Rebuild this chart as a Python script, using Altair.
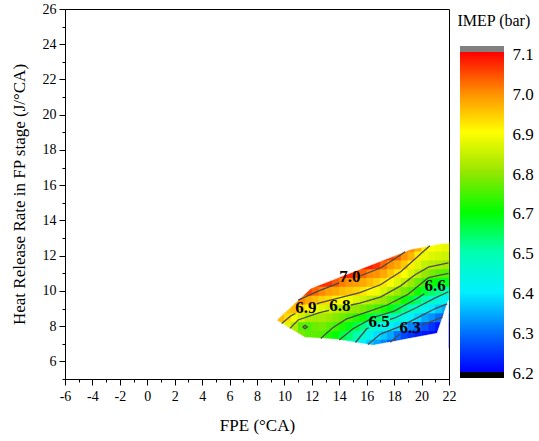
import altair as alt
import pandas as pd

# Cell centres of the IMEP map (FPE in degCA, heat-release rate in J/degCA)
FPE_CENTERS = [9.75, 10.25, 10.75, 11.25, 11.75, 12.25, 12.75, 13.25, 13.75, 14.25,
               14.75, 15.25, 15.75, 16.25, 16.75, 17.25, 17.75, 18.25, 18.75, 19.25,
               19.75, 20.25, 20.75, 21.25, 21.75]
HRR_CENTERS = [7.0, 7.5, 8.0, 8.5, 9.0, 9.5, 10.0, 10.5, 11.0, 11.5, 12.0, 12.5]

# IMEP (bar), one row per HRR centre
IMEP_7_0 = [6.74, 6.73, 6.72, 6.72, 6.71, 6.70, 6.68, 6.65, 6.61, 6.57, 6.53, 6.49, 6.43,
            6.39, 6.36, 6.33, 6.29, 6.25, 6.22, 6.20, 6.20, 6.20, 6.20, 6.20, 6.20]
IMEP_7_5 = [6.76, 6.75, 6.77, 6.74, 6.72, 6.72, 6.71, 6.67, 6.65, 6.61, 6.58, 6.54, 6.49,
            6.45, 6.41, 6.39, 6.36, 6.31, 6.27, 6.25, 6.23, 6.22, 6.21, 6.20, 6.20]
IMEP_8_0 = [6.86, 6.84, 6.79, 6.72, 6.71, 6.73, 6.74, 6.72, 6.70, 6.67, 6.64, 6.61, 6.57,
            6.51, 6.48, 6.46, 6.44, 6.41, 6.38, 6.33, 6.30, 6.28, 6.25, 6.22, 6.20]
IMEP_8_5 = [6.94, 6.91, 6.86, 6.82, 6.79, 6.78, 6.78, 6.77, 6.75, 6.73, 6.71, 6.68, 6.66,
            6.62, 6.59, 6.56, 6.53, 6.49, 6.46, 6.43, 6.40, 6.36, 6.34, 6.31, 6.27]
IMEP_9_0 = [6.96, 6.93, 6.94, 6.92, 6.89, 6.86, 6.84, 6.82, 6.80, 6.79, 6.77, 6.76, 6.74,
            6.72, 6.70, 6.67, 6.64, 6.61, 6.56, 6.52, 6.48, 6.45, 6.42, 6.39, 6.36]
IMEP_9_5 = [7.00, 6.99, 6.96, 6.99, 6.96, 6.94, 6.92, 6.91, 6.89, 6.87, 6.86, 6.84, 6.82,
            6.80, 6.78, 6.76, 6.73, 6.70, 6.66, 6.62, 6.58, 6.54, 6.50, 6.47, 6.44]
IMEP_10_0 = [7.05, 7.05, 7.05, 7.02, 7.05, 7.02, 6.99, 6.97, 6.96, 6.94, 6.93, 6.92, 6.90,
             6.88, 6.86, 6.83, 6.80, 6.77, 6.74, 6.71, 6.66, 6.62, 6.59, 6.56, 6.53]
IMEP_10_5 = [7.08, 7.08, 7.08, 7.08, 7.08, 7.06, 7.07, 7.06, 7.03, 7.00, 6.98, 6.97, 6.96,
             6.94, 6.92, 6.90, 6.87, 6.84, 6.81, 6.77, 6.73, 6.69, 6.66, 6.64, 6.63]
IMEP_11_0 = [7.09, 7.09, 7.09, 7.09, 7.09, 7.09, 7.09, 7.07, 7.07, 7.07, 7.07, 7.04, 7.02,
             6.99, 6.98, 6.96, 6.93, 6.90, 6.87, 6.83, 6.80, 6.76, 6.74, 6.72, 6.71]
IMEP_11_5 = [7.09, 7.09, 7.09, 7.09, 7.09, 7.09, 7.09, 7.09, 7.09, 7.09, 7.09, 7.07, 7.08,
             7.08, 7.06, 7.02, 6.98, 6.96, 6.93, 6.89, 6.84, 6.81, 6.80, 6.79, 6.78]
IMEP_12_0 = [7.09, 7.09, 7.09, 7.09, 7.09, 7.09, 7.09, 7.09, 7.09, 7.09, 7.09, 7.09, 7.09,
             7.09, 7.07, 7.07, 7.05, 7.02, 6.98, 6.95, 6.89, 6.85, 6.84, 6.83, 6.82]
IMEP_12_5 = [7.09, 7.09, 7.09, 7.09, 7.09, 7.09, 7.09, 7.09, 7.09, 7.09, 7.09, 7.09, 7.09,
             7.09, 7.09, 7.09, 7.09, 7.02, 7.01, 6.99, 6.95, 6.89, 6.87, 6.86, 6.85]
IMEP_ROWS = [IMEP_7_0, IMEP_7_5, IMEP_8_0, IMEP_8_5, IMEP_9_0, IMEP_9_5,
             IMEP_10_0, IMEP_10_5, IMEP_11_0, IMEP_11_5, IMEP_12_0, IMEP_12_5]
HALF_W = 0.27   # half cell size, slightly overlapping to avoid seams
HALF_H = 0.27

# Outline of the measured region (upper and lower boundary chains)
TOP_EDGE_FPE = [9.0, 9.42, 11.94, 19.23, 21.56, 21.96]
TOP_EDGE_HRR = [8.33, 8.33, 10.15, 12.36, 12.70, 12.70]
BOTTOM_EDGE_FPE = [9.0, 9.42, 11.5, 13.76, 16.46, 21.13, 21.96]
BOTTOM_EDGE_HRR = [8.33, 8.33, 7.36, 7.25, 6.91, 7.59, 9.47]
MASK_TOP = 13.2
MASK_BOTTOM = 6.4

# Contour lines (level, FPE points, HRR points), broken where labels sit
C70_A = (7.0, [11.0, 12.5, 14.0], [9.48, 10.0, 10.45])
C70_B = (7.0, [15.55, 17.0, 18.2, 18.8], [10.86, 11.3, 11.9, 12.22])
C69_A = (6.9, [9.8, 10.5, 10.8], [8.15, 8.6, 8.72])
C69_B = (6.9, [12.35, 12.5, 14.0, 15.5, 17.0, 18.5, 19.5, 20.6], [9.255, 9.3, 9.6, 9.9, 10.35, 11.1, 11.8, 12.56])
C68_A = (6.8, [10.4, 11.0, 12.5, 13.25], [7.875, 8.35, 8.75, 8.90])
C68_B = (6.8, [14.85, 15.5, 17.0, 18.5, 19.5, 20.5, 21.96], [9.2, 9.3, 9.65, 10.3, 10.9, 11.35, 11.59])
C67_A = (6.7, [12.65, 13.5, 14.5, 16.0, 17.5, 19.0, 20.5, 21.96], [7.30, 7.9, 8.4, 8.8, 9.2, 9.8, 10.75, 10.99])
C67_L = (6.7, [11.33, 11.5, 11.67, 11.5, 11.33], [7.95, 8.05, 7.95, 7.86, 7.95])
C66_A = (6.6, [13.99, 15.0, 16.5, 18.0, 19.5, 20.2], [7.22, 7.85, 8.5, 8.85, 9.5, 9.83])
C65_A = (6.5, [15.18, 16.0, 16.15], [7.07, 7.85, 7.91])
C65_B = (6.5, [17.7, 18.0, 19.5, 21.0, 21.96], [8.39, 8.45, 9.0, 9.6, 9.95])
C64_A = (6.4, [16.09, 17.0, 18.5, 20.0, 21.0, 21.87], [6.96, 7.55, 8.0, 8.6, 9.0, 9.26])
C63_A = (6.3, [17.72, 18.4], [7.09, 7.54])
C63_B = (6.3, [19.95, 20.5, 21.53], [8.06, 8.2, 8.51])
CONTOURS = [C70_A, C70_B, C69_A, C69_B, C68_A, C68_B, C67_A, C67_L,
            C66_A, C65_A, C65_B, C64_A, C63_A, C63_B]

LABEL_TEXT = ["7.0", "6.9", "6.8", "6.6", "6.5", "6.3"]
LABEL_FPE = [14.78, 11.57, 14.05, 20.98, 16.9, 19.16]
LABEL_HRR = [10.77, 9.01, 9.13, 10.26, 8.22, 7.88]

X_TICKS = list(range(-6, 23))
Y_TICKS = list(range(5, 27))

# Colour bar: IMEP range (with under/over caps) and its tick labels
BAR_LOW, BAR_HIGH = 6.183, 7.117
BAR_TICKS = [6.2, 6.3125, 6.425, 6.5375, 6.65, 6.7625, 6.875, 6.9875, 7.1]
BAR_LABELS = ["6.2", "6.3", "6.4", "6.5", "6.7", "6.8", "6.9", "7.0", "7.1"]
COLOR_STOPS = [6.2, 6.3125, 6.425, 6.5375, 6.65, 6.7625, 6.875, 6.9875, 7.1]
COLOR_RANGE = ["#0000ff", "#0073ff", "#00f0ff", "#00ffb0", "#00ff00",
               "#96e600", "#ffff00", "#ff8c00", "#ff0000"]
UNDER_COLOR, OVER_COLOR = "#000000", "#808080"

# ---------------------------------------------------------------- tables
cells = []
for hrr, row in zip(HRR_CENTERS, IMEP_ROWS):
    for fpe, v in zip(FPE_CENTERS, row):
        cells.append({"x0": fpe - HALF_W, "x1": fpe + HALF_W,
                      "y0": hrr - HALF_H, "y1": hrr + HALF_H, "imep": v})
cells = pd.DataFrame(cells)

top_mask = pd.DataFrame({"x": TOP_EDGE_FPE, "y": TOP_EDGE_HRR, "y2": MASK_TOP})
bottom_mask = pd.DataFrame({"x": BOTTOM_EDGE_FPE, "y": BOTTOM_EDGE_HRR, "y2": MASK_BOTTOM})

lines = []
for k, (lev, xs, ys) in enumerate(CONTOURS):
    for i, (x, y) in enumerate(zip(xs, ys)):
        lines.append({"seg": k, "i": i, "level": lev, "x": x, "y": y})
lines = pd.DataFrame(lines)

labels = pd.DataFrame({"t": LABEL_TEXT, "x": LABEL_FPE, "y": LABEL_HRR})
bar = pd.DataFrame({"b0": [0.0], "b1": [1.0], "lo": [BAR_LOW], "hi": [BAR_HIGH]})

# ---------------------------------------------------------------- styling
FONT = "Liberation Serif"
x_scale = alt.Scale(domain=[-6, 22], nice=False, zero=False)
y_scale = alt.Scale(domain=[5, 26], nice=False, zero=False)
color_scale = alt.Scale(domain=[BAR_LOW] + COLOR_STOPS + [BAR_HIGH],
                        range=[UNDER_COLOR] + COLOR_RANGE + [OVER_COLOR], interpolate="rgb")

even = "datum.value % 2 === 0"
x_axis = alt.Axis(values=X_TICKS, title="FPE (°CA)", grid=False,
                  labelExpr=f"{even} ? '' + datum.value : ''",
                  tickSize={"condition": {"test": even, "value": 6}, "value": 3},
                  labelFont=FONT, labelFontSize=14, labelColor="black", labelPadding=4,
                  titleFont=FONT, titleFontSize=17, titleFontWeight="normal", titleColor="black",
                  titlePadding=14, domainColor="black", tickColor="black", labelFlush=False)
y_axis = alt.Axis(values=Y_TICKS, title="Heat Release Rate in FP stage (J/°CA)", grid=False,
                  labelExpr=f"{even} ? '' + datum.value : ''",
                  tickSize={"condition": {"test": even, "value": 6}, "value": 3},
                  labelFont=FONT, labelFontSize=14, labelColor="black", labelPadding=3,
                  titleFont=FONT, titleFontSize=17, titleFontWeight="normal", titleColor="black",
                  titlePadding=14, domainColor="black", tickColor="black", labelFlush=False)

rects = alt.Chart(cells).mark_rect(strokeWidth=0).encode(
    x=alt.X("x0:Q", scale=x_scale, axis=x_axis),
    x2="x1:Q",
    y=alt.Y("y0:Q", scale=y_scale, axis=y_axis),
    y2="y1:Q",
    color=alt.Color("imep:Q", scale=color_scale, legend=None),
)


def mask_layer(df):
    return alt.Chart(df).mark_area(fill="white", stroke="white", strokeWidth=0.6,
                                   opacity=1).encode(
        x=alt.X("x:Q", scale=x_scale, axis=x_axis),
        y=alt.Y("y:Q", scale=y_scale, axis=y_axis),
        y2="y2:Q",
    )


contour = alt.Chart(lines).mark_line(color="#4a4a4a", strokeWidth=1.3).encode(
    x=alt.X("x:Q", scale=x_scale, axis=x_axis),
    y=alt.Y("y:Q", scale=y_scale, axis=y_axis),
    detail="seg:N",
    order="i:Q",
)

text = alt.Chart(labels).mark_text(font=FONT, fontSize=17, fontWeight="bold", color="black").encode(
    x=alt.X("x:Q", scale=x_scale, axis=x_axis),
    y=alt.Y("y:Q", scale=y_scale, axis=y_axis),
    text="t:N",
)

main = alt.layer(rects, mask_layer(top_mask), mask_layer(bottom_mask), contour, text)

# ---- colour bar drawn as its own layer with independent scales
span = BAR_HIGH - BAR_LOW
stops = [alt.GradientStop(offset=0.0, color=UNDER_COLOR),
         alt.GradientStop(offset=(COLOR_STOPS[0] - BAR_LOW) / span, color=UNDER_COLOR)]
for v, c in zip(COLOR_STOPS, COLOR_RANGE):
    stops.append(alt.GradientStop(offset=(v - BAR_LOW) / span, color=c))
stops += [alt.GradientStop(offset=(COLOR_STOPS[-1] - BAR_LOW) / span, color=OVER_COLOR),
          alt.GradientStop(offset=1.0, color=OVER_COLOR)]
bar_fill = alt.Gradient(gradient="linear", stops=stops, x1=0, x2=0, y1=1, y2=0)

# bar occupies 395..439 px of the 384-px plot frame's x-range, 46..378 px vertically
bar_x_scale = alt.Scale(domain=[-395 / 44, -395 / 44 + 384 / 44], nice=False, zero=False)
bar_y_scale = alt.Scale(domain=[BAR_LOW - 1 / 355.5, BAR_HIGH + 37 / 355.5], nice=False, zero=False)
bar_axis = alt.Axis(orient="right", offset=55, values=BAR_TICKS, domain=False, ticks=False,
                    tickSize=0, grid=False, labelPadding=8, labelOffset=2,
                    labelExpr="[" + ",".join(f"'{s}'" for s in BAR_LABELS)
                              + "][round((datum.value - 6.2) / 0.1125)]",
                    labelFont=FONT, labelFontSize=17, labelColor="black",
                    labelOverlap=False, labelFlush=False, labelBound=False,
                    title="IMEP (bar)", titleAngle=0, titleAlign="left", titleBaseline="middle",
                    titleX=-47, titleY=11, titleFont=FONT, titleFontSize=16,
                    titleFontWeight="normal", titleColor="black")

colorbar = alt.Chart(bar).mark_rect(fill=bar_fill, strokeWidth=0).encode(
    x=alt.X("b0:Q", scale=bar_x_scale, axis=None),
    x2="b1:Q",
    y=alt.Y("lo:Q", scale=bar_y_scale, axis=bar_axis),
    y2="hi:Q",
)

chart = alt.layer(main, colorbar).resolve_scale(
    x="independent", y="independent"
).properties(
    width=384, height=370,
    autosize=alt.AutoSizeParams(type="none"),
    padding={"left": 65, "top": 9, "right": 90, "bottom": 62},
    background="white",
).configure_view(stroke="black", strokeWidth=1)

chart.save("out.html", embed_options={"renderer": "svg", "actions": False})
